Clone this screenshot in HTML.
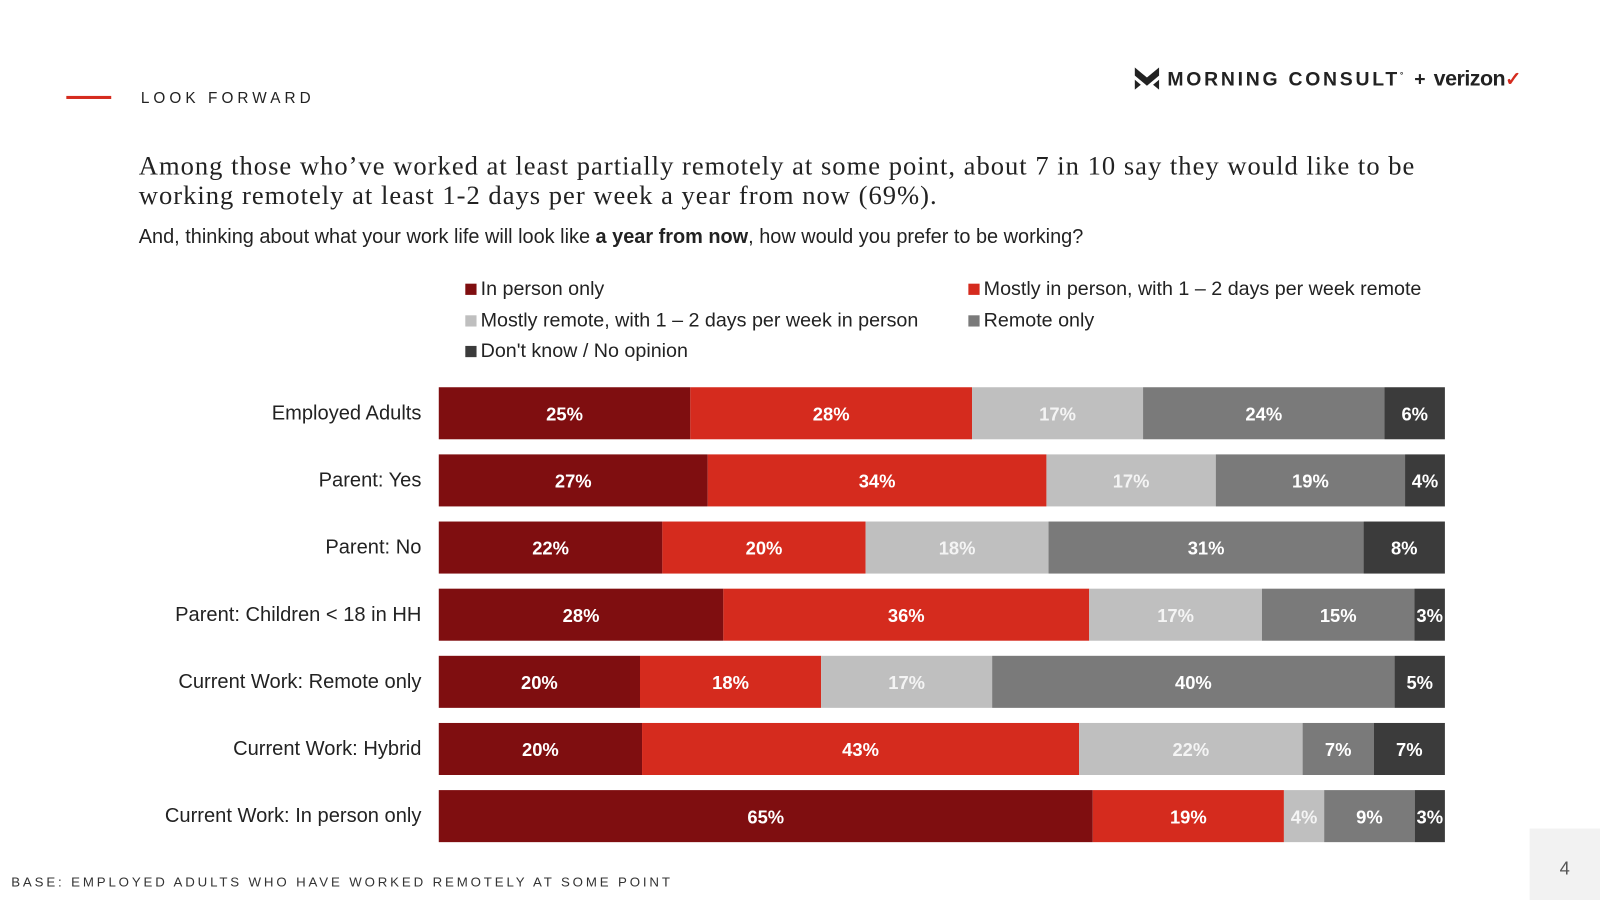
<!DOCTYPE html>
<html><head><meta charset="utf-8"><style>
html,body{margin:0;padding:0;background:#fff;width:1600px;height:900px;overflow:hidden}
#s{position:absolute;left:0;top:0;width:1568px;height:882px;transform:scale(1.020408);transform-origin:0 0;font-family:"Liberation Sans",sans-serif}
.a{position:absolute;white-space:nowrap}
</style></head><body>
<div id="s">
<div class="a" style="left:65px;top:94px;width:44px;height:3px;background:#d52b1e"></div>
<div class="a" style="left:138px;top:88px;font-size:15px;letter-spacing:4px;color:#222">LOOK FORWARD</div>
<div class="a" style="left:1112px;top:64px;font-size:19px;font-weight:bold;color:#222;letter-spacing:2.7px">
<svg width="24" height="24" viewBox="0 0 24 24" style="vertical-align:-4px"><path d="M0 2 L12 12 L24 2 V10 L12 20 L0 10Z M0 14 L6 19 L0 24Z M24 14 L18 19 L24 24Z" fill="#222"/></svg> MORNING CONSULT<sup style="font-size:8px">°</sup> <span style="letter-spacing:0">+</span> <span style="letter-spacing:-0.5px;font-size:21px">verizon</span><span style="color:#d52b1e;letter-spacing:0">✓</span></div>
<div class="a" style="left:136px;top:148px;font-family:'Liberation Serif',serif;font-size:26px;letter-spacing:1px;line-height:29px;color:#222;white-space:normal;width:1300px">Among those who’ve worked at least partially remotely at some point, about 7 in 10 say they would like to be working remotely at least 1-2 days per week a year from now (69%).</div>
<div class="a" style="left:136px;top:221px;font-size:19.5px;color:#222">And, thinking about what your work life will look like <b>a year from now</b>, how would you prefer to be working?</div>
<div class="a" style="left:11px;top:857px;font-size:13px;letter-spacing:2.8px;color:#333">BASE: EMPLOYED ADULTS WHO HAVE WORKED REMOTELY AT SOME POINT</div>
<div class="a" style="left:1499px;top:812px;width:69px;height:70px;background:#f2f2f2;color:#555;font-size:18px;text-align:center;line-height:78px">4</div>
<svg id="chart" class="a" style="left:0;top:0" width="1568" height="882"></svg>
</div>
<script>
const categories=["Employed Adults","Parent: Yes","Parent: No","Parent: Children < 18 in HH","Current Work: Remote only","Current Work: Hybrid","Current Work: In person only"];
const seriesNames=["In person only","Mostly in person, with 1 – 2 days per week remote","Mostly remote, with 1 – 2 days per week in person","Remote only","Don't know / No opinion"];
const inPerson=[25,27,22,28,20,20,65];
const mostlyInPerson=[28,34,20,36,18,43,19];
const mostlyRemote=[17,17,18,17,17,22,4];
const remoteOnly=[24,19,31,15,40,7,9];
const dontKnow=[6,4,8,3,5,7,3];
const series=[inPerson,mostlyInPerson,mostlyRemote,remoteOnly,dontKnow];
const colors=["#7f0e10","#d52b1e","#bfbfbf","#7a7a7a","#3b3b3b"];
const ns="http://www.w3.org/2000/svg";
const svg=document.getElementById('chart');
const X0=430,W=986,Y0=405,STEP=65.8,H=51;
const xs=(frac)=>X0+frac*W;
const yc=(i)=>Y0+i*STEP;
function mk(t,a){const e=document.createElementNS(ns,t);for(const k in a)e.setAttribute(k,a[k]);svg.appendChild(e);return e;}
categories.forEach((c,i)=>{
  const t=mk('text',{x:413,y:yc(i)+6,'text-anchor':'end','font-size':19.7,fill:'#222'});
  t.textContent=c;
  
  
  const tot=series.reduce((s,a)=>s+a[i],0);let acc=0;
  series.forEach((s,j)=>{
    const x1=xs(acc/tot),x2=xs((acc+s[i])/tot);acc+=s[i];
    const r=mk('rect',{x:x1,y:yc(i)-H/2,width:x2-x1,height:H,fill:colors[j]});
    
    
    const v=mk('text',{x:(x1+x2)/2,y:yc(i)+7,'text-anchor':'middle','font-size':18,'font-weight':'bold',fill:j==2?'#f4f4f4':'#fff'});
    v.textContent=s[i]+'%';
    
    
  });
});
const lpos=[[456,283],[949,283],[456,314],[949,314],[456,344]];
seriesNames.forEach((n,j)=>{
  const r=mk('rect',{x:lpos[j][0],y:lpos[j][1]-5,width:11,height:11,fill:colors[j]});
  
  
  const t=mk('text',{x:lpos[j][0]+15,y:lpos[j][1]+6,'font-size':19.3,fill:'#222'});
  t.textContent=n;
  
  
});
</script>
</body></html>
